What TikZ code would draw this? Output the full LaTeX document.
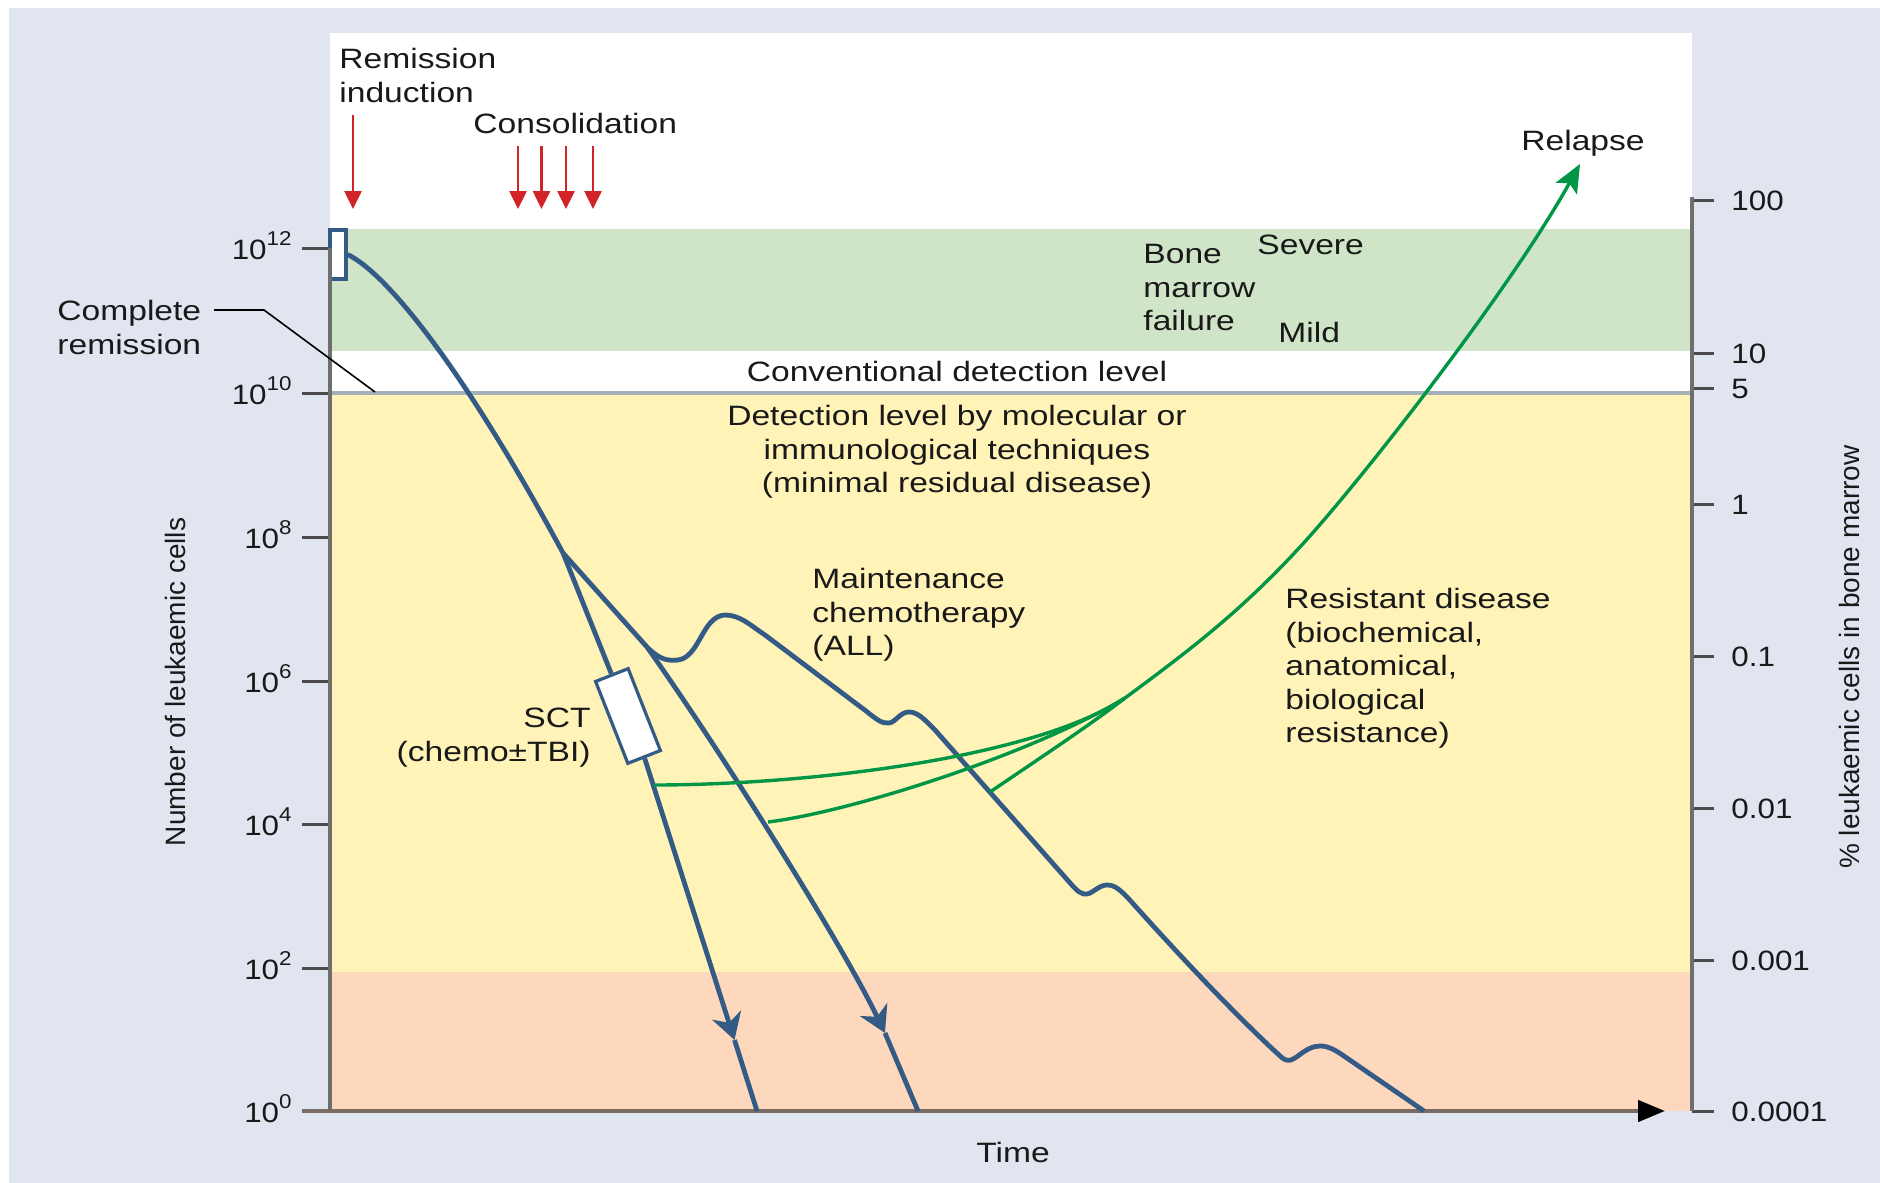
\documentclass[tikz,border=0pt]{standalone}
\usepackage{fontspec}
\setmainfont{Liberation Sans}[FakeStretch=1.2]
\newfontfamily\axfont{Liberation Sans}
\newfontfamily\tkfont{Liberation Sans}[FakeStretch=1.12]
\usetikzlibrary{arrows.meta}
\newcommand\mysup[1]{\raisebox{7pt}{\fontsize{10}{12}\selectfont #1}}
\definecolor{bgc}{RGB}{225,229,239}
\definecolor{bandgreen}{RGB}{208,229,200}
\definecolor{bandyellow}{RGB}{255,243,184}
\definecolor{bandsalmon}{RGB}{253,216,188}
\definecolor{detline}{RGB}{165,177,186}
\definecolor{curveblue}{RGB}{52,90,134}
\definecolor{curvegreen}{RGB}{0,150,70}
\definecolor{arrowred}{RGB}{210,35,40}
\definecolor{axisgray}{RGB}{110,110,110}
\definecolor{tickc}{RGB}{75,75,75}
\definecolor{xaxisc}{RGB}{120,108,100}
\definecolor{txt}{RGB}{25,25,25}
\begin{document}
\begin{tikzpicture}[x=0.5pt,y=-0.5pt,
  lbl/.style={inner sep=0pt, text=txt, font=\fontsize{14}{16.75}\selectfont},
  tklbl/.style={inner sep=0pt, text=txt, font=\tkfont\fontsize{14}{16.75}\selectfont},
  axlbl/.style={inner sep=0pt, text=txt, font=\axfont\fontsize{14}{16.75}\selectfont, rotate=90},
  tickln/.style={line width=1.5pt, draw=tickc},
  bluecurve/.style={draw=curveblue, line width=2.4pt, line join=round},
  greencurve/.style={draw=curvegreen, line width=1.7pt},
  redarrow/.style={draw=arrowred, line width=1.3pt, -{Triangle[length=9pt,width=8.5pt]}},
  midarrow/.style={-{Stealth[length=13pt,width=15pt,inset=4pt]}},
  sctbox/.style={draw=curveblue, fill=white, line width=1.6pt, minimum width=44pt, minimum height=17.5pt, inner sep=0pt, rotate=-68.5},
  indbox/.style={draw=curveblue, fill=white, line width=1.6pt, minimum width=8pt, minimum height=24.5pt, inner sep=0pt}
]
\useasboundingbox (0,0) rectangle (1880,1183);
% backgrounds
\fill[white] (0,0) rectangle (1880,1183);
\fill[bgc] (9,8) rectangle (1880,1183);
\fill[white] (330,33) rectangle (1692,229);
\fill[bandgreen] (330,229) rectangle (1692,351);
\fill[white] (330,351) rectangle (1692,393);
\fill[bandyellow] (330,393) rectangle (1692,972);
\fill[bandsalmon] (330,972) rectangle (1692,1111);
\draw[detline, line width=2pt] (330,393) -- (1692,393);

% induction bracket
\node[indbox] (ind) at (338,254.5) {};

% left ticks and labels
\foreach \yy/\ee in {248/12, 393/10, 537/8, 681/6, 824/4, 968/2, 1111/0} {
  \draw[tickln] (302,\yy) -- (330,\yy);
  \node[tklbl, anchor=base east] (lt\ee) at (292,\yy+11) {10\mysup{\ee}};
}
% right ticks and labels
\foreach \yy/\vv [count=\ii] in {200/100, 353/10, 388/5, 504/1, 656/0.1, 808/0.01, 960/0.001, 1111/0.0001} {
  \draw[tickln] (1692,\yy) -- (1714,\yy);
  \node[tklbl, anchor=base west] (rt\ii) at (1731,\yy+10) {\vv};
}

% axes
\draw[axisgray, line width=2.2pt] (330,248) -- (330,1111);
\draw[axisgray, line width=2pt] (1692,197) -- (1692,1111);
\draw[xaxisc, line width=2.2pt, -{Triangle[length=13.5pt,width=10.5pt,color=black]}] (302,1111) -- (1665,1111);

% red arrows
\coordinate (ri0) at (353,115); \coordinate (ri1) at (353,209);
\draw[redarrow] (ri0) -- (ri1);
\foreach \xx [count=\ii] in {518,541.5,566,593} {
  \coordinate (rc\ii a) at (\xx,146); \coordinate (rc\ii b) at (\xx,209);
  \draw[redarrow] (rc\ii a) -- (rc\ii b);
}

% key points
\coordinate (br1) at (563,553);
\coordinate (br2) at (647,647);
\node[sctbox] (sct) at (628,716) {};
\coordinate (a1) at (734.5,1040);
\coordinate (e1) at (757,1111);
\coordinate (a2) at (885,1033);
\coordinate (e2) at (918,1111);
\coordinate (e3) at (1424,1111);

% blue curves
\draw[bluecurve] (ind.east) .. controls (390,275) and (470,380) .. (br1);
\draw[bluecurve] (br1) -- (sct.west);
\draw[bluecurve, midarrow] (sct.east) -- (a1);
\draw[bluecurve] (a1) -- (e1);
\draw[bluecurve] (br1) -- (br2);
\draw[bluecurve, midarrow] (br2) .. controls (720,750) and (840,940) .. (a2);
\draw[bluecurve] (a2) -- (e2);
\draw[bluecurve] (br2) .. controls (660,660) and (668,661) .. (678,660)
  .. controls (700,657) and (702,616) .. (725,615)
  .. controls (740,615) and (750,625) .. (765,635)
  -- (866,711) .. controls (876,719) and (882,724) .. (889,723)
  .. controls (896,722) and (900,712) .. (909,712)
  .. controls (918,712) and (925,720) .. (935,730)
  -- (1071,884) .. controls (1077,891) and (1082,895) .. (1087,894)
  .. controls (1093,893) and (1099,885) .. (1107,885)
  .. controls (1115,885) and (1120,890) .. (1128,898)
  .. controls (1170,945) and (1230,1010) .. (1279,1055)
  .. controls (1284,1060) and (1287,1061) .. (1291,1060)
  .. controls (1299,1057) and (1307,1046) .. (1320,1046)
  .. controls (1328,1046) and (1333,1049) .. (1341,1054)
  -- (e3);

% green curves
\coordinate (g1s) at (654,785);
\coordinate (g2s) at (768,822);
\coordinate (g3s) at (990,792);
\coordinate (cv) at (1125,698);
\coordinate (rel) at (1580,164);
\draw[greencurve] (g1s) .. controls (800,785) and (1030,760) .. (cv);
\draw[greencurve] (g2s) .. controls (850,812) and (1030,755) .. (cv);
\draw[greencurve] (g3s) .. controls (1040,758) and (1090,725) .. (cv);
\draw[greencurve, -{Stealth[length=14pt,width=12pt,inset=3pt]}] (cv) .. controls (1190,650) and (1240,612) .. (1300,547)
  .. controls (1360,482) and (1510,290) .. (rel);

% complete remission leader
\coordinate (crA) at (214,310); \coordinate (crB) at (264,310); \coordinate (crC) at (375,392);
\draw[black, line width=0.8pt] (crA) -- (crB) -- (crC);

% texts
\node[lbl, anchor=north west, align=left] (remind) at (339,48) {Remission\\induction};
\node[lbl, anchor=base west] (consol) at (473,133) {Consolidation};
\node[lbl, anchor=base west] (relapse) at (1521,150) {Relapse};
\node[lbl, anchor=north west, align=left] (bmf) at (1143,244) {Bone\\marrow\\failure};
\node[lbl, anchor=base west] (severe) at (1257,254) {Severe};
\node[lbl, anchor=base west] (mild) at (1278,342) {Mild};
\node[lbl, anchor=base] (conv) at (957,381) {Conventional detection level};
\node[lbl, anchor=north, align=center] (mrd) at (957,405) {Detection level by molecular or\\immunological techniques\\(minimal residual disease)};
\node[lbl, anchor=north west, align=left] (maint) at (812,568) {Maintenance\\chemotherapy\\(ALL)};
\node[lbl, anchor=north east, align=right] (sctl) at (591,708) {SCT\\(chemo±TBI)};
\node[lbl, anchor=north west, align=left] (resist) at (1285,588) {Resistant disease\\(biochemical,\\anatomical,\\biological\\resistance)};
\node[lbl, anchor=north west, align=left] (cr) at (57,300) {Complete\\remission};
\node[lbl, anchor=base west] (time) at (976,1162) {Time};
\node[axlbl] (ylab) at (175,682) {Number of leukaemic cells};
\node[axlbl] (y2lab) at (1849,657) {\% leukaemic cells in bone marrow};
\end{tikzpicture}
\end{document}
